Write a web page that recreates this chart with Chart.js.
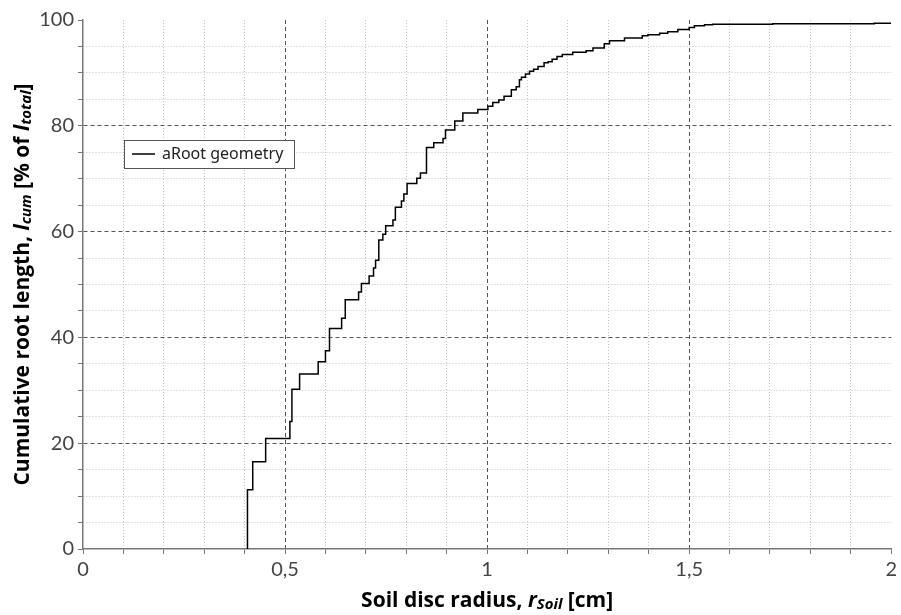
<!DOCTYPE html>
<html>
<head>
<meta charset="utf-8">
<script src="https://cdn.jsdelivr.net/npm/chart.js@4/dist/chart.umd.min.js"></script>
<style>
  body{margin:0;background:#fff;}
  #wrap{width:901px;height:615px;position:relative;}
</style>
</head>
<body>
<div id="wrap"><canvas id="rootchart"></canvas></div>
<script>
// soil disc radius [cm] where the cumulative curve steps up
const radius=[0.407,0.407,0.420,0.452,0.512,0.517,0.517,0.536,0.582,0.600,0.610,0.640,0.649,0.682,0.689,0.708,0.719,0.724,0.732,0.742,0.749,0.767,0.773,0.788,0.794,0.802,0.826,0.835,0.850,0.868,0.891,0.897,0.920,0.940,0.977,1.002,1.014,1.029,1.042,1.060,1.072,1.080,1.085,1.095,1.105,1.115,1.126,1.141,1.151,1.161,1.173,1.186,1.212,1.245,1.262,1.290,1.303,1.340,1.384,1.398,1.427,1.447,1.472,1.500,1.513,1.538,1.558,1.707,1.958,2.000];
// cumulative root length [% of total] after each step
const cumLength=[0,11.2,16.5,20.9,24.1,27.0,30.2,33.1,35.4,37.5,41.7,43.6,47.1,48.6,50.2,51.6,53.1,54.6,58.4,59.5,61.1,62.2,64.6,65.8,67.1,69.1,70.1,71.1,75.9,76.8,77.6,79.2,80.9,82.4,83.1,83.7,84.4,84.9,85.6,86.8,87.4,88.7,89.2,89.8,90.3,90.7,91.2,91.9,92.1,92.6,93.1,93.5,93.9,94.2,94.7,95.5,96.1,96.6,97.0,97.2,97.5,97.8,98.2,98.6,98.9,99.1,99.2,99.3,99.4,99.4];
// labelled ticks
const xTickValues=[0,0.5,1,1.5,2];
const xTickLabels=['0','0,5','1','1,5','2'];
const yTickValues=[0,20,40,60,80,100];
const yTickLabels=['0','20','40','60','80','100'];
const seriesName='aRoot geometry';

const fontFam='Lato, "Noto Sans", sans-serif';
const titleFam='"Open Sans", "Noto Sans", sans-serif';

function isMajor(v,list){
    return list.some(m=>Math.abs(m-v)<1e-6);
}
function labelFor(v,vals,labels){
    const i=vals.findIndex(m=>Math.abs(m-v)<1e-6);
    return i<0?'':labels[i];
}

// draws a line of text made of several font pieces
function drawRich(ctx,parts,x,y,rotate){
    ctx.save();
    ctx.translate(x,y);
    if(rotate) ctx.rotate(-Math.PI/2);
    let total=0;
    parts.forEach(p=>{ctx.font=p.font;total+=ctx.measureText(p.text).width;});
    let cx=-total/2;
    ctx.textBaseline='middle';
    ctx.textAlign='left';
    ctx.fillStyle='#000';
    parts.forEach(p=>{
        ctx.font=p.font;
        ctx.fillText(p.text,cx,p.dy||0);
        cx+=ctx.measureText(p.text).width;
    });
    ctx.restore();
}

const titlePlugin={
    id:'titles',
    afterDraw(chart){
        const ctx=chart.ctx;
        const area=chart.chartArea;
        const big='bold 21px '+titleFam;
        const bigIt='italic bold 21px '+titleFam;
        const small='italic bold 15px '+titleFam;
        drawRich(ctx,[
            {text:'Soil disc radius, ',font:big},
            {text:'r',font:bigIt},
            {text:'Soil',font:small,dy:4},
            {text:' [cm]',font:big}
        ],(area.left+area.right)/2,601,false);
        drawRich(ctx,[
            {text:'Cumulative root length, ',font:big},
            {text:'l',font:bigIt},
            {text:'cum',font:small,dy:4},
            {text:' [% of ',font:big},
            {text:'l',font:bigIt},
            {text:'total',font:small,dy:4},
            {text:']',font:big}
        ],23,(area.top+area.bottom)/2,true);

        // legend box inside the plot
        const bx=124.5,by=140.5,bw=170,bh=28;
        ctx.save();
        ctx.fillStyle='#fff';
        ctx.fillRect(bx,by,bw,bh);
        ctx.strokeStyle='#555';
        ctx.lineWidth=1;
        ctx.strokeRect(bx,by,bw,bh);
        ctx.strokeStyle='#000';
        ctx.lineWidth=1.5;
        ctx.beginPath();
        ctx.moveTo(132,154);
        ctx.lineTo(155,154);
        ctx.stroke();
        ctx.fillStyle='#222';
        ctx.font='16px "Noto Sans", sans-serif';
        ctx.textBaseline='middle';
        ctx.fillText(chart.data.datasets[0].label,162,154);
        ctx.restore();
    }
};

window.addEventListener('load',()=>{
    const points=radius.map((r,i)=>({x:r,y:cumLength[i]}));
    const canvaElement=document.getElementById('rootchart').getContext('2d');
    const config={
        type:'line',
        data:{
            datasets:[{
                label:seriesName,
                data:points,
                stepped:true,
                borderColor:'#000',
                borderWidth:1.5,
                pointRadius:0,
                fill:false
            }]
        },
        options:{
            responsive:true,
            maintainAspectRatio:false,
            animation:false,
            layout:{padding:{top:20,right:9,left:0,bottom:0}},
            plugins:{legend:{display:false},tooltip:{enabled:false}},
            scales:{
                x:{
                    type:'linear',
                    min:0,max:2,
                    afterFit:s=>{s.height=66;},
                    afterBuildTicks:s=>{
                        s.ticks=[];
                        for(let i=0;i<=20;i++) s.ticks.push({value:i/10});
                    },
                    ticks:{
                        autoSkip:false,
                        maxRotation:0,
                        padding:4,
                        color:'#444',
                        font:{family:fontFam,size:20},
                        callback:v=>labelFor(v,xTickValues,xTickLabels)
                    },
                    grid:{
                        color:c=>{
                            if(!c.tick) return '#bbb';
                            if(Math.abs(c.tick.value)<1e-6||Math.abs(c.tick.value-2)<1e-6) return 'rgba(0,0,0,0)';
                            return isMajor(c.tick.value,xTickValues)?'#555':'#c4c4c4';
                        },
                        lineWidth:1,
                        tickLength:5,
                        tickColor:'#777',
                        tickWidth:1
                    },
                    border:{
                        display:true,color:'#777',width:1.5,
                        dash:c=>c.tick?(isMajor(c.tick.value,xTickValues)?[4,3]:[1,2]):[]
                    }
                },
                y:{
                    type:'linear',
                    min:0,max:100,
                    afterFit:s=>{s.width=83;},
                    afterBuildTicks:s=>{
                        s.ticks=[];
                        for(let i=0;i<=20;i++) s.ticks.push({value:i*5});
                    },
                    ticks:{
                        autoSkip:false,
                        padding:4,
                        color:'#444',
                        font:{family:fontFam,size:20},
                        callback:v=>labelFor(v,yTickValues,yTickLabels)
                    },
                    grid:{
                        color:c=>{
                            if(!c.tick) return '#bbb';
                            if(Math.abs(c.tick.value)<1e-6||Math.abs(c.tick.value-100)<1e-6) return 'rgba(0,0,0,0)';
                            return isMajor(c.tick.value,yTickValues)?'#555':'#c4c4c4';
                        },
                        lineWidth:1,
                        tickLength:5,
                        tickColor:'#777',
                        tickWidth:1
                    },
                    border:{
                        display:true,color:'#777',width:1.5,
                        dash:c=>c.tick?(isMajor(c.tick.value,yTickValues)?[4,3]:[1,2]):[]
                    }
                }
            }
        },
        plugins:[titlePlugin]
    };
    new Chart(canvaElement,config);
});
</script>
</body>
</html>
